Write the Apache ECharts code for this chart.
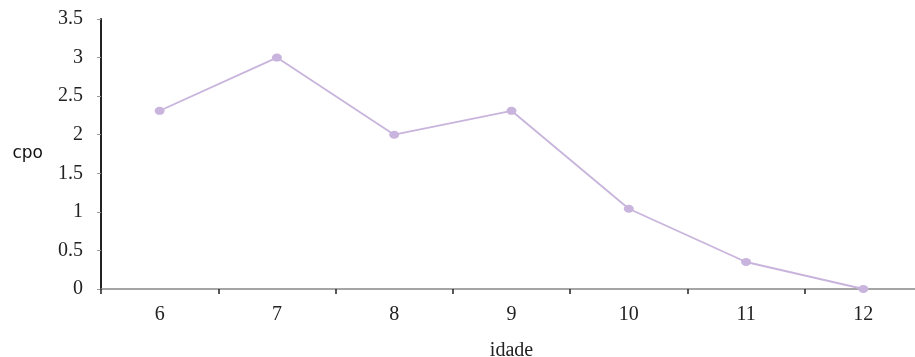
<!DOCTYPE html>
<html>
<head>
<meta charset="utf-8">
<script src="https://cdn.jsdelivr.net/npm/echarts@6/dist/echarts.min.js"></script>
<style>
html,body{margin:0;padding:0;background:#fff;overflow:hidden;}
#c{width:915px;height:357px;}
</style>
</head>
<body>
<div id="c"></div>
<script>
var categories = ['6','7','8','9','10','11','12'];
var cpoValues = [2.31, 3.0, 2.0, 2.31, 1.04, 0.35, 0.0];
var yTicks = [0, 0.5, 1, 1.5, 2, 2.5, 3, 3.5];

var serif = '"Liberation Serif", "Times New Roman", serif';
var chart = echarts.init(document.getElementById('c'), null, {renderer:'canvas', width: 915, height: 357});
chart.setOption({
  animation: false,
  backgroundColor: '#fff',
  grid: {left: 101, top: 19, width: 821, height: 270, containLabel: false, outerBoundsMode: 'none'},
  xAxis: {
    type: 'category',
    data: categories,
    boundaryGap: true,
    name: 'idade',
    nameLocation: 'middle',
    nameGap: 52,
    nameTextStyle: {fontFamily: serif, fontSize: 20, color: '#222'},
    axisLine: {lineStyle: {color: '#888', width: 1.5}},
    axisTick: {show: true, alignWithLabel: false, length: 5, lineStyle: {color: '#222', width: 1.5}},
    axisLabel: {fontFamily: serif, fontSize: 20, color: '#222', margin: 16},
    splitLine: {show: false}
  },
  yAxis: {
    type: 'value',
    min: 0,
    max: 3.5,
    interval: 0.5,
    name: 'cpo',
    nameLocation: 'middle',
    nameRotate: 0,
    nameGap: 58,
    nameTextStyle: {fontFamily: '"DejaVu Sans", Arial, sans-serif', fontSize: 17, color: '#111'},
    axisLine: {show: true, lineStyle: {color: '#222', width: 2}},
    axisTick: {show: true, length: 4, lineStyle: {color: '#999', width: 1}},
    axisLabel: {fontFamily: serif, fontSize: 20, color: '#222', margin: 18,
      formatter: function(v){ return String(v); }},
    splitLine: {show: false}
  },
  series: [{
    type: 'line',
    data: cpoValues,
    symbol: 'circle',
    symbolSize: [10, 8],
    itemStyle: {color: '#c8b4dc'},
    lineStyle: {color: '#c8b4dc', width: 1.8}
  }]
});
</script>
</body>
</html>
